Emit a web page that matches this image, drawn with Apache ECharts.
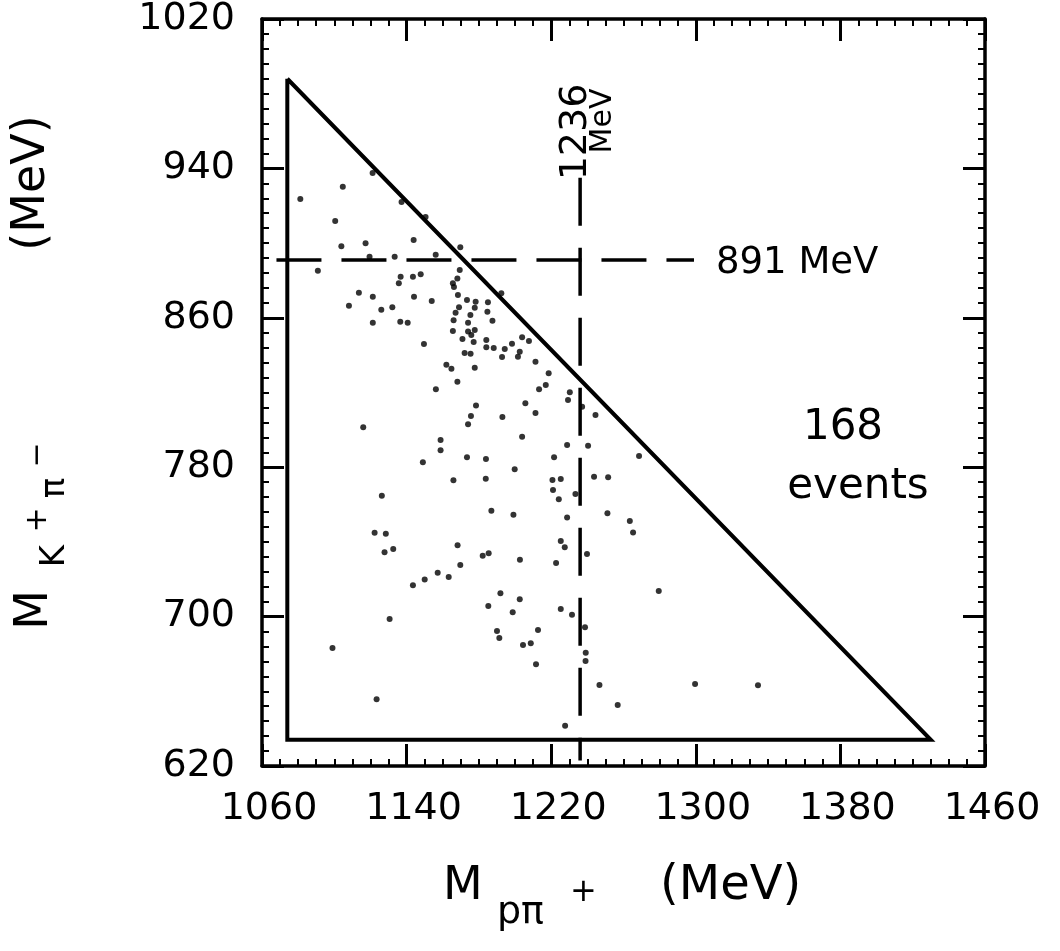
<!DOCTYPE html>
<html><head><meta charset="utf-8">
<script src="https://cdn.jsdelivr.net/npm/echarts@6/dist/echarts.min.js"></script>
<style>html,body{margin:0;padding:0;background:#fff}#c{width:1060px;height:951px}</style>
</head><body><div id="c"></div>
<script>
// Axis ticks (MeV)
const xTicks = [1060, 1140, 1220, 1300, 1380, 1460];
const yTicks = [620, 700, 780, 860, 940, 1020];
// Kinematic boundary (triangle) vertices
const boundaryX = [1074, 1074, 1430, 1074];
const boundaryY = [988, 634, 634, 988];
// Resonance guide lines
const deltaMass = 1236;           // vertical dashed line
const deltaRange = [623, 935];
const kstarMass = 891;            // horizontal dashed line
const kstarRange = [1068, 1299];
// Events: M(p pi+) and M(K+ pi-) in MeV
const eventsX = [1104.7,1081.2,1100.5,1143.9,1117.3,1103.9,1119.5,1133.4,1156.1,1169.7,
1090.9,1136.7,1143.5,1147.8,1135.7,1169.4,1168.1,1165.6,1166.2,1113.6,
1121.3,1144.1,1153.9,1168.4,1192.4,1108.1,1126.0,1132.1,1173.4,1178.2,
1185.0,1169.0,1167.1,1175.3,1177.7,1184.7,1187.5,1121.3,1136.5,1140.6,
1166.0,1174.0,1165.6,1174.0,1177.7,1175.8,1170.9,1177.1,1184.1,1184.1,
1188.2,1194.3,1198.3,1203.9,1207.7,1149.6,1121.2,1137.2,1150.5,1172.1,
1175.4,1192.8,1202.6,1201.6,1211.3,1162.0,1164.8,1177.7,1168.1,1156.2,
1213.3,1205.7,1178.4,1211.3,1175.6,1193.0,1174.0,1116.0,1203.9,1158.8,
1158.8,1173.4,1183.9,1149.0,1199.8,1165.9,1183.8,1126.3,1186.9,1199.1,
1122.3,1128.5,1132.6,1168.2,1127.8,1182.1,1185.4,1202.7,1169.7,1157.2,
1163.3,1150.0,1143.5,1191.9,1202.6,1185.2,1198.7,1130.6,1190.0,1191.3,
1212.7,1204.4,1208.7,1099.0,1211.6,1123.4,1225.3,1227.5,1239.8,1222.7,
1279.5,1225.3,1231.5,1238.7,1239.1,1239.0,1246.7,1299.6,1334.4,1256.8,
1227.7,1218.6,1217.0,1230.3,1229.3,1237.1,1244.5,1228.8,1240.4,1221.6,
1268.6,1220.7,1225.3,1243.7,1251.5,1221.0,1233.4,1224.2,1251.1,1228.8,
1263.5,1265.3];
const eventsY = [930.2,923.6,911.8,901.7,899.9,898.3,892.7,892.7,893.8,897.8,
885.2,882.0,882.0,883.3,878.5,885.6,881.1,878.5,876.5,873.4,
871.3,871.3,869.0,872.2,873.1,866.5,864.3,865.6,869.5,868.6,
868.3,865.6,862.7,861.5,865.4,863.3,858.4,857.4,857.9,857.4,
858.7,857.4,852.9,852.6,853.5,850.8,848.6,847.0,848.1,844.2,
843.8,843.3,846.1,849.6,847.6,846.0,937.5,922.0,914.0,841.2,
840.8,839.0,841.8,839.2,836.5,834.9,832.7,833.3,825.8,821.7,
821.7,814.2,813.1,809.0,807.4,806.9,803.0,801.4,796.3,794.6,
789.1,785.3,784.4,782.6,778.9,773.0,773.8,764.7,756.7,754.6,
744.9,744.4,736.2,738.2,734.4,732.6,733.9,730.5,727.6,723.5,
721.2,719.8,716.8,712.5,709.3,705.7,702.3,698.7,692.3,688.5,
692.8,684.8,685.7,683.2,674.5,655.7,740.5,737.1,733.5,728.7,
713.7,704.1,701.0,694.3,680.7,676.2,663.4,663.9,663.2,652.7,
641.6,830.3,824.0,820.1,816.0,812.4,808.0,791.9,791.5,785.3,
786.0,773.1,773.7,774.9,774.6,767.8,765.6,762.8,755.3,753.0,
751.2,745.1];

const events = eventsX.map((x, i) => [x, eventsY[i]]);
const boundary = boundaryX.map((x, i) => [x, boundaryY[i]]);

const FONT = 'DejaVu Sans';
const INK = '#000';

function axisCommon(showLabels, pos, ticks) {
  const vertical = (pos === 'left' || pos === 'right');
  return {
    type: 'value',
    position: pos,
    min: ticks[0], max: ticks[ticks.length - 1], interval: 80,
    axisLine: { show: true, onZero: false, lineStyle: { color: INK, width: 3.5 } },
    axisTick: { show: true, inside: true, length: 22, lineStyle: { color: INK, width: 3 } },
    minorTick: { show: true, splitNumber: vertical ? 10 : 8, length: 7, lineStyle: { color: INK, width: 2 } },
    splitLine: { show: false },
    minorSplitLine: { show: false },
    axisLabel: { show: showLabels, color: INK, fontFamily: FONT, fontSize: 38,
      formatter: v => String(v),
      padding: vertical ? 0 : [0, 0, 0, 14],
      margin: (pos === 'left') ? 27 : 24 }
  };
}

const chart = echarts.init(document.getElementById('c'), null, { renderer: 'canvas' });

function rtext(x, y, text, size) {
  return { type: 'text', x: x, y: y, rotation: Math.PI / 2,
    style: { text: text, fill: INK, font: size + 'px "' + FONT + '"', align: 'center', verticalAlign: 'middle' } };
}
function htext(x, y, text, size, align) {
  return { type: 'text', x: x, y: y,
    style: { text: text, fill: INK, font: size + 'px "' + FONT + '"', align: align || 'left', verticalAlign: 'middle' } };
}

chart.setOption({
  backgroundColor: '#fff',
  animation: false,
  grid: { left: 262, top: 18, width: 723, height: 748, containLabel: false },
  xAxis: [ axisCommon(true, 'bottom', xTicks), axisCommon(false, 'top', xTicks) ],
  yAxis: [ axisCommon(true, 'left', yTicks), axisCommon(false, 'right', yTicks) ],
  series: [
    { type: 'line', data: boundary, symbol: 'none', xAxisIndex: 0, yAxisIndex: 0,
      lineStyle: { color: INK, width: 4, join: 'miter' }, z: 3 },
    { type: 'line', data: [[kstarRange[0], kstarMass], [kstarRange[1], kstarMass]], symbol: 'none',
      lineStyle: { color: INK, width: 3.5, type: [45, 20] }, z: 2 },
    { type: 'line', data: [[deltaMass, deltaRange[1]], [deltaMass, deltaRange[0]]], symbol: 'none',
      lineStyle: { color: INK, width: 3.5, type: [48, 22] }, z: 2 },
    { type: 'scatter', data: events, symbol: 'circle', symbolSize: 6,
      itemStyle: { color: INK }, z: 4 }
  ],
  graphic: [
    // annotations
    htext(716, 263, '891 MeV', 37),
    rtext(576, 132, '1236', 38),
    rtext(603, 121, 'MeV', 30),
    htext(843, 428, '168', 42, 'center'),
    htext(858, 487, 'events', 42, 'center'),
    // x-axis title  M_{pπ+} (MeV)
    htext(443, 887, 'M', 46),
    htext(497, 913, 'pπ', 38),
    htext(570, 893, '+', 32),
    htext(660, 887, '(MeV)', 48),
    // y-axis title  M_{K+π−} (MeV)
    rtext(35, 610, 'M', 46),
    rtext(55, 556, 'K', 34),
    rtext(38, 520, '+', 30),
    rtext(55, 488, 'π', 34),
    rtext(38, 455, '−', 30),
    rtext(32, 183, '(MeV)', 46)
  ]
});
</script></body></html>
